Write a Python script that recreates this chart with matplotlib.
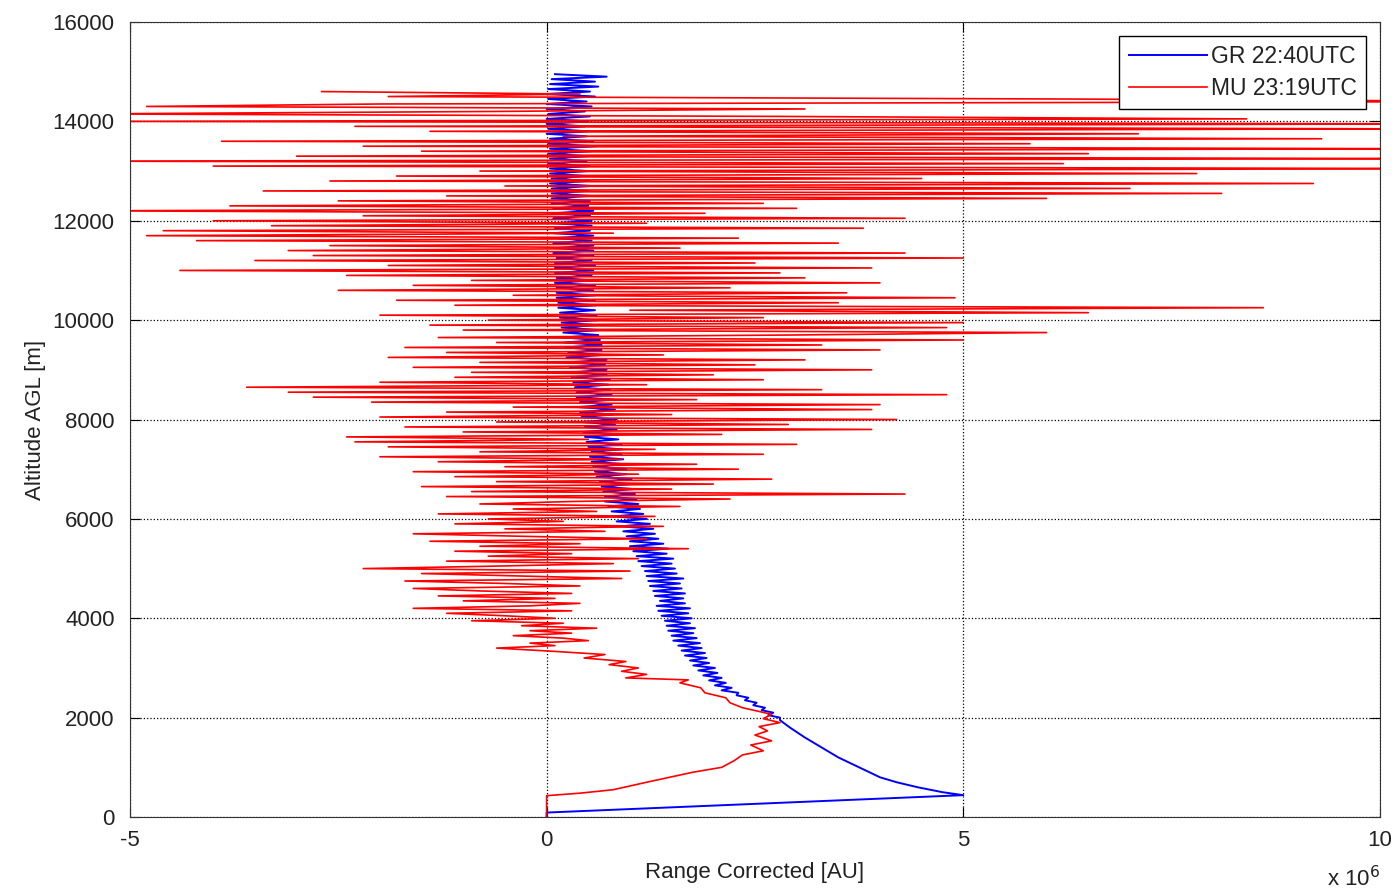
#lidar range corrected profiles, GR vs MU
import numpy as np
from matplotlib import pyplot as plt

plt.rcParams['font.family'] = ['Liberation Sans', 'DejaVu Sans']

# GR 22:40UTC  (values in units of 1e6)
gr_alt_low = [0, 90, 440, 500, 600, 700, 800, 1000, 1200, 1400, 1600, 1800, 1950]
gr_val_low = [0.0, 0.0, 5.0, 4.75, 4.45, 4.2, 4.0, 3.75, 3.5, 3.3, 3.1, 2.92, 2.8]
gr_alt_high = np.arange(2000, 14951, 50)
gr_val_high = [
    2.80, 2.66, 2.72, 2.58, 2.62, 2.48, 2.52, 2.38, 2.42, 2.28,
    2.30, 2.10, 2.22, 2.02, 2.15, 1.95, 2.10, 1.88, 2.05, 1.82,
    2.02, 1.76, 1.95, 1.72, 1.92, 1.66, 1.90, 1.62, 1.86, 1.58,
    1.84, 1.52, 1.80, 1.50, 1.76, 1.46, 1.78, 1.44, 1.72, 1.42,
    1.74, 1.38, 1.70, 1.34, 1.72, 1.32, 1.66, 1.36, 1.64, 1.30,
    1.66, 1.28, 1.62, 1.24, 1.60, 1.22, 1.64, 1.20, 1.56, 1.18,
    1.54, 1.14, 1.50, 1.10, 1.52, 1.08, 1.44, 1.04, 1.46, 1.00,
    1.40, 1.00, 1.34, 0.96, 1.30, 0.92, 1.28, 0.88, 1.24, 0.84,
    1.20, 0.80, 1.16, 0.78, 1.12, 0.74, 1.10, 0.70, 1.08, 0.70,
    1.06, 0.68, 1.04, 0.66, 1.00, 0.64, 1.02, 0.60, 0.96, 0.58,
    0.96, 0.56, 0.94, 0.54, 0.92, 0.52, 0.90, 0.54, 0.90, 0.50,
    0.90, 0.48, 0.86, 0.46, 0.88, 0.44, 0.84, 0.46, 0.82, 0.42,
    0.84, 0.42, 0.80, 0.40, 0.82, 0.38, 0.78, 0.40, 0.80, 0.36,
    0.78, 0.36, 0.76, 0.34, 0.74, 0.32, 0.76, 0.30, 0.72, 0.30,
    0.72, 0.28, 0.70, 0.26, 0.72, 0.24, 0.68, 0.26, 0.66, 0.22,
    0.66, 0.22, 0.64, 0.20, 0.62, 0.20, 0.64, 0.18, 0.60, 0.18,
    0.62, 0.16, 0.60, 0.16, 0.58, 0.14, 0.60, 0.14, 0.58, 0.12,
    0.58, 0.12, 0.56, 0.12, 0.58, 0.10, 0.56, 0.12, 0.54, 0.10,
    0.56, 0.10, 0.58, 0.10, 0.54, 0.12, 0.56, 0.08, 0.56, 0.10,
    0.56, 0.08, 0.54, 0.10, 0.56, 0.08, 0.52, 0.10, 0.54, 0.08,
    0.54, 0.08, 0.52, 0.06, 0.56, 0.08, 0.50, 0.06, 0.52, 0.06,
    0.52, 0.06, 0.50, 0.06, 0.54, 0.04, 0.50, 0.06, 0.48, 0.04,
    0.50, 0.04, 0.52, 0.02, 0.48, 0.04, 0.50, 0.02, 0.54, 0.04,
    0.60, 0.02, 0.56, 0.04, 0.48, 0.00, 0.50, 0.02, 0.46, 0.00,
    0.50, 0.00, 0.52, 0.02, 0.46, 0.00, 0.54, 0.00, 0.48, 0.02,
    0.58, 0.00, 0.52, 0.02, 0.62, 0.04, 0.58, 0.06, 0.72, 0.10,
]

# MU 23:19UTC  (values in units of 1e6)
mu_alt_low = [0, 430, 480, 550, 700, 900, 1000, 1133, 1250, 1333, 1450, 1533,
              1650, 1733, 1820, 1900, 1980, 2067, 2200, 2300, 2400, 2500, 2600,
              2700, 2760, 2800, 2870, 2933, 3000, 3067, 3130, 3200, 3270, 3333]
mu_val_low = [0, 0, 0.4, 0.8, 1.2, 1.75, 2.1, 2.25, 2.35, 2.6, 2.45, 2.7,
              2.5, 2.65, 2.55, 2.8, 2.6, 2.7, 2.35, 2.2, 2.15, 1.9, 1.85,
              1.6, 1.7, 0.95, 1.2, 0.9, 1.1, 0.75, 0.95, 0.45, 0.7, 0.1]
mu_alt_high = np.arange(3400, 14601, 50)
mu_val_high = [
    -0.6, 0.1, -0.2, 0.5, 0.2, -0.4, 0.3, -0.2, 0.6, -0.3,
    0.2, -0.9, 0.1, -0.5, -1.2, 0.3, -1.6, -0.2, 0.4, -1.0,
    0.1, -1.3, 0.3, -0.8, -1.6, 0.4, -0.5, -1.7, 0.9, -0.3,
    -1.5, 1.0, -2.2, -0.6, 0.8, -1.2, 1.1, -0.7, 0.3, -1.1,
    1.7, -0.8, 0.4, -1.4, 1.2, -0.3, -1.6, 0.7, -0.5, 1.4,
    -1.1, 0.2, -0.7, 1.3, -1.3, 0.6, -0.4, 1.6, -0.8, 0.3,
    2.2, -1.2, 4.3, -0.9, 1.5, -1.5, 2.0, -0.6, 2.7, -1.1,
    1.1, -1.6, 2.3, -0.5, 1.8, -1.3, 0.9, -2.0, 2.6, -0.8,
    1.3, -1.9, 3.0, -2.3, 0.5, -2.4, 2.1, -1.0, 3.9, -1.7,
    2.9, -0.6, 4.2, -2.0, 1.5, -1.2, 3.9, -0.4, 4.0, -2.1,
    1.8, -2.8, 4.8, -3.1, 3.3, -3.6, 1.2, -2.0, 2.6, -1.1,
    2.0, -0.9, 3.9, -1.6, 2.5, -0.8, 3.1, -1.9, 1.4, -1.2,
    4.0, -1.7, 3.3, -0.6, 5.0, -1.3, 2.9, 6.0, -1.0, 4.8,
    -1.4, 5.0, -0.7, 2.6, -2.0, 6.5, 1.0, 8.6, -1.1, 3.5,
    -1.8, 4.9, -0.4, 3.6, -2.5, 2.2, -1.6, 4.0, -0.9, 3.1,
    -2.4, 2.8, -4.4, 3.9, -1.9, 2.5, -3.5, 5.0, -2.8, 4.3,
    -3.1, 1.6, -2.6, 3.5, -4.2, 2.3, -4.8, 0.8, -4.6, 3.8,
    -3.3, 1.2, -4.0, 4.3, -2.2, 1.9, -5.5, 3.0, -3.8, 2.6,
    -2.5, 6.0, -1.2, 8.1, -3.4, 7.0, -0.5, 9.2, -2.6, 4.5,
    -1.8, 7.8, -0.8, 11.0, -4.0, 6.2, -5.6, 10.8, -3.0, 6.5,
    -1.5, 10.5, -2.2, 5.8, -3.9, 9.3, 0.2, 7.1, -1.4, 10.3,
    -2.3, 11.0, -5.2, 8.4, 2.8, -5.6, -0.6, 3.1, -4.8, -2.0,
    12.0, 6.2, -1.9, 0.4, -2.7,
]

gr_alt = np.concatenate([gr_alt_low, gr_alt_high])
gr_val = np.concatenate([gr_val_low, gr_val_high])
mu_alt = np.concatenate([mu_alt_low, mu_alt_high])
mu_val = np.concatenate([mu_val_low, mu_val_high])

fig = plt.figure(figsize=(13.96, 8.94), dpi=100)
ax = fig.add_axes([0.0931, 0.0861, 0.8954, 0.8893])

ax.plot(gr_val, gr_alt, color=(0, 0, 1), lw=1.4, label='GR 22:40UTC')
ax.plot(mu_val, mu_alt, color=(1, 0, 0), lw=1.2, label='MU 23:19UTC')

ax.set_xlim(-5, 10)
ax.set_ylim(0, 16000)
ax.set_xticks([-5, 0, 5, 10])
ax.set_xticklabels(['-5', '0', '5', '10'])
ax.set_yticks(range(0, 16001, 2000))
ax.grid(True, color='black', linestyle=':', linewidth=0.9)
ax.tick_params(direction='in', length=7, top=True, right=True, labelsize=16,
               labelcolor='#222222')
ax.tick_params(axis='x', pad=9)
ax.tick_params(axis='y', pad=11)
for s in ax.spines.values():
    s.set_color('#333333')

ax.set_xlabel('Range Corrected [AU]', fontsize=16, labelpad=8, color='#222222')
ax.set_ylabel('Altitude AGL [m]', fontsize=16, labelpad=5, color='#222222')
ax.text(1.0, -0.078, r'x 10$^{6}$', transform=ax.transAxes, fontsize=16,
        ha='right', va='center', color='#222222')

leg = ax.legend(loc='upper right', fontsize=16.5, handlelength=3.4,
                fancybox=False, framealpha=1, edgecolor='black',
                borderaxespad=0.6, borderpad=0.4, labelspacing=0.4,
                handletextpad=0.2)
leg.get_frame().set_linewidth(1.0)
for t in leg.get_texts():
    t.set_color('#222222')

plt.savefig('out.png')
